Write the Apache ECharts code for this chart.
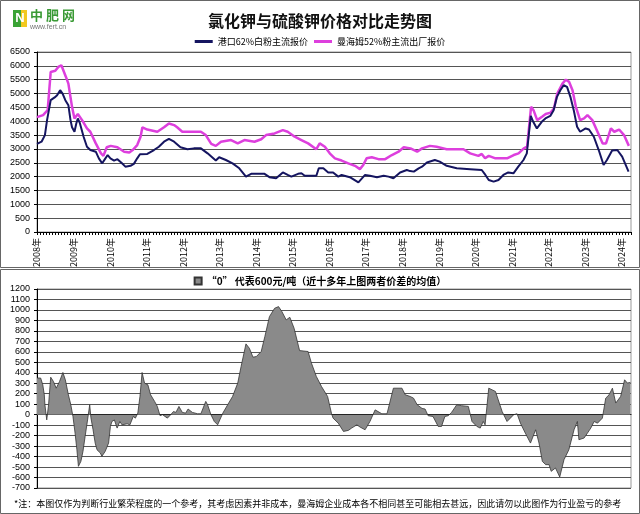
<!DOCTYPE html>
<html><head><meta charset="utf-8">
<script src="https://cdn.jsdelivr.net/npm/echarts@6/dist/echarts.min.js"></script>
<style>html,body{margin:0;padding:0;background:#fff}#c{width:640px;height:514px}</style>
</head><body><div id="c"></div>
<script>
// month index since 2008-01
const startYear = 2008;
const yearTicks = ['2008年','2009年','2010年','2011年','2012年','2013年','2014年','2015年','2016年','2017年','2018年','2019年','2020年','2021年','2022年','2023年','2024年'];
const mopName = '港口62%白粉主流报价';
const sopName = '曼海姆52%粉主流出厂报价';
const diffName = '“0” 代表600元/吨（近十多年上图两者价差的均值）';
const mopData = [[0,3180],[1.5,3260],[2.6,3500],[3.3,4040],[4.5,4760],[5.8,4860],[6.6,4940],[7.6,5120],[8.4,5000],[9.3,4760],[10.3,4580],[11,4040],[11.5,3780],[12.3,3620],[12.9,3920],[13.4,4100],[14.1,3920],[15.3,3440],[16.4,3080],[17.5,2960],[19.3,2900],[20.3,2660],[21.4,2480],[22.3,2630],[23.2,2780],[24.1,2660],[25.3,2580],[26.4,2630],[27.9,2480],[29,2360],[30.7,2390],[31.8,2460],[32.9,2660],[33.8,2810],[36.2,2820],[38.4,2960],[40,3080],[41.7,3260],[43.3,3360],[45,3260],[47.1,3060],[49.4,2990],[51.5,3020],[53.8,3020],[56,2840],[58.7,2580],[59.8,2700],[62,2600],[64.2,2480],[66.4,2300],[68.6,2000],[70.3,2100],[74.7,2100],[76.3,1980],[78.5,1940],[80.7,2150],[82.3,2060],[83.5,2000],[85.7,2100],[86.8,2120],[87.9,2030],[91.7,2030],[92.5,2300],[94,2300],[95.6,2150],[97.2,2150],[98.9,2000],[100,2060],[102.7,1980],[105.5,1790],[107.7,2060],[109.3,2030],[111.6,1980],[113.8,2030],[115.4,2000],[117,1940],[119.2,2150],[121.4,2240],[122.5,2200],[123.7,2180],[125.3,2300],[126.4,2360],[128,2510],[130.6,2600],[132.2,2540],[134.5,2390],[137.8,2300],[142.2,2270],[146,2240],[147.2,2060],[148.3,1880],[149.9,1820],[151.5,1880],[153.1,2060],[154.7,2150],[156.4,2120],[158,2360],[159.7,2600],[160.8,2840],[162.1,4190],[162.9,3980],[164.1,3740],[165.7,3980],[166.9,4100],[168.5,4190],[169.6,4400],[170.7,4880],[171.8,5120],[172.9,5300],[174,5240],[175.1,4880],[176.2,4400],[177.3,3800],[178.3,3620],[180.1,3740],[181.2,3700],[182.8,3440],[184.4,2960],[186,2420],[187.1,2600],[188.8,2940],[190.5,2960],[192.1,2720],[194.2,2180]];
const sopData = [[0,4150],[2,4220],[3.5,4400],[4.5,5780],[6,5820],[7,5960],[8,6020],[8.6,6000],[9.5,5600],[10.3,5360],[11.5,4520],[12.3,4100],[12.8,4160],[13.4,4260],[14.8,4040],[16.4,3740],[17.5,3620],[19.3,3200],[21,2840],[21.8,2750],[22.9,3060],[24.2,3110],[26.4,3060],[28.6,2900],[30.3,2870],[31.4,2960],[32.9,3140],[34,3440],[34.6,3780],[36.2,3700],[39.5,3620],[41.7,3780],[43.3,3920],[45,3860],[46,3780],[47.7,3620],[53.8,3620],[55.4,3500],[57.2,3180],[58.7,3110],[60.4,3260],[63.7,3320],[65.9,3200],[68.1,3320],[71.4,3260],[73.6,3350],[75.2,3500],[78,3560],[80.7,3680],[82.3,3620],[84.6,3440],[86.8,3320],[89,3200],[91.7,2990],[92.8,3200],[94.5,3080],[96.1,2840],[97.8,2660],[100,2580],[102.2,2480],[104.4,2390],[106,2270],[107.1,2420],[108.2,2660],[109.9,2700],[112.1,2630],[114.3,2630],[116.5,2780],[118.7,2900],[120.4,3060],[122.6,3020],[124.8,2900],[126.4,3020],[129,3110],[131.2,3080],[134.5,2990],[140,2990],[142.2,2840],[144.9,2750],[146,2820],[147.1,2660],[148.3,2750],[150.5,2660],[154.3,2660],[156.5,2780],[158.1,2840],[159.8,3020],[160.9,3080],[162.2,4520],[163,4400],[164.2,4040],[165.8,4160],[167,4260],[168.6,4310],[169.7,4460],[170.8,5000],[172.5,5360],[173.6,5500],[174.7,5420],[175.8,5120],[176.9,4520],[178.3,4040],[179.6,4100],[180.7,4220],[182.3,4040],[184,3620],[185.7,3200],[186.8,3200],[188.4,3740],[189.5,3620],[191.1,3700],[192.7,3500],[194.3,3110]];
const diffData = [[0,350],[1.2,350],[1.9,285],[2.4,190],[2.6,95],[3.2,-50],[3.8,95],[4.5,358],[5.4,317],[6.3,253],[7.4,317],[8.5,403],[9.3,333],[10.3,190],[11.1,95],[11.8,-17],[12.5,-176],[13.1,-335],[13.6,-493],[14.4,-446],[15.1,-350],[15.8,-207],[16.6,-50],[17.3,95],[17.7,-30],[18.4,-144],[19.1,-271],[19.7,-335],[20.8,-366],[21.3,-398],[22.4,-350],[23.5,-271],[24.1,-112],[24.6,-65],[25.4,-50],[26.3,-128],[27.2,-65],[27.9,-97],[29.6,-87],[30.5,-97],[31.6,-17],[32.3,-33],[33.1,15],[33.8,174],[34.5,403],[35.3,302],[36.4,285],[37.3,190],[38.6,127],[39.5,79],[40.4,-10],[41.2,0],[42.8,-33],[43.9,0],[44.8,30],[45.6,22],[46.6,79],[47.7,22],[48.8,15],[49.6,54],[51,22],[52.7,9],[53.8,9],[55.4,127],[56,95],[57.1,0],[58.2,-65],[59.3,-97],[59.9,-112],[61,15],[62.6,95],[64.2,174],[65.9,302],[67,460],[68.6,676],[69.7,635],[70.9,549],[72,555],[73.6,603],[74.8,746],[76.3,936],[78,1016],[79.3,1032],[80.4,984],[81.8,905],[83,930],[84.4,825],[86.2,612],[89,603],[90.1,492],[91.7,365],[93.4,269],[95.4,174],[96.7,9],[97.2,-33],[98.9,-81],[100.6,-160],[102.2,-150],[103.3,-128],[105,-97],[106.1,-119],[107.7,-144],[109.3,-65],[111,46],[113.2,9],[114.9,9],[117,253],[119.8,253],[120.9,190],[122.5,174],[123.6,158],[124.8,95],[126.4,60],[127.4,54],[128.4,-10],[130,-17],[131.7,-112],[132.8,-112],[133.9,-17],[135,-10],[136.1,22],[137.8,95],[139.4,86],[141.6,79],[142.8,-65],[144.4,-112],[145.5,-128],[146.5,-65],[147.1,-97],[148.3,253],[150.5,222],[152.7,30],[154.3,-65],[155.4,-33],[156.5,0],[157.6,9],[158.7,-81],[160.3,-176],[162,-271],[163.7,-144],[164.8,-271],[165.9,-446],[167,-477],[168.1,-477],[168.8,-541],[170.2,-509],[171.6,-595],[173,-430],[174.6,-335],[176.3,-144],[177.4,-65],[177.9,-239],[179.6,-223],[180.7,-176],[181.8,-128],[182.9,-65],[184,-81],[185.6,-33],[186.7,158],[187.8,190],[188.9,253],[190,111],[191.6,174],[192.9,333],[193.8,302],[194.8,308]];
const topYMin = 0, topYMax = 6500, topYStep = 500;
const botYMin = -700, botYMax = 1200, botYStep = 100;
const xMax = 195;

const FONT = 'Liberation Sans, Noto Sans CJK SC, sans-serif';
const CJK = 'Noto Sans CJK SC, sans-serif';
const plain = v => String(v);
const chart = echarts.init(document.getElementById('c'), null, {renderer:'canvas'});
chart.setOption({
  animation:false,
  backgroundColor:'#fff',
  textStyle:{fontFamily:FONT},
  legend:[
    {data:[mopName, sopName], top:37, left:'center', itemWidth:18, itemHeight:3, itemGap:6, icon:'rect',
     textStyle:{fontSize:9, color:'#000', fontFamily:CJK}, padding:0},
    {data:[diffName], top:276, left:'center', itemWidth:7, itemHeight:7, itemGap:4, icon:'rect',
     textStyle:{fontSize:10, fontWeight:'bold', color:'#000', fontFamily:CJK}, padding:0}
  ],
  grid:[
    {left:37, right:9, top:52, height:180, show:true, borderColor:'#999', borderWidth:1},
    {left:37, right:9, top:289, height:199, show:true, borderColor:'#999', borderWidth:1}
  ],
  xAxis:[
    {type:'value', gridIndex:0, min:0, max:xMax, interval:12,
     axisLine:{show:true, lineStyle:{color:'#000', width:1}},
     axisTick:{show:true, length:3, lineStyle:{color:'#000'}},
     minorTick:{show:true, splitNumber:12, length:3, lineStyle:{color:'#000'}},
     splitLine:{show:false},
     axisLabel:{rotate:90, fontSize:9, color:'#000', margin:6, fontFamily:CJK, showMaxLabel:false,
       formatter:v => (v % 12 === 0 && yearTicks[v/12]) ? yearTicks[v/12] : ''}},
    {type:'value', gridIndex:1, min:0, max:xMax, interval:12,
     axisLine:{show:true, onZero:true, lineStyle:{color:'#000', width:1}},
     axisTick:{show:false}, axisLabel:{show:false}, splitLine:{show:false}}
  ],
  yAxis:[
    {type:'value', gridIndex:0, min:topYMin, max:topYMax, interval:topYStep,
     axisLine:{show:true, lineStyle:{color:'#000'}}, axisTick:{show:true, length:3, lineStyle:{color:'#000'}},
     axisLabel:{fontSize:9, color:'#000', margin:7, formatter:plain},
     splitLine:{show:true, lineStyle:{color:'#555', width:1}}},
    {type:'value', gridIndex:1, min:botYMin, max:botYMax, interval:botYStep,
     axisLine:{show:true, lineStyle:{color:'#000'}}, axisTick:{show:true, length:3, lineStyle:{color:'#000'}},
     axisLabel:{fontSize:9, color:'#000', margin:7, formatter:plain},
     splitLine:{show:true, lineStyle:{color:'#555', width:1}}}
  ],
  series:[
    {name:mopName, type:'line', xAxisIndex:0, yAxisIndex:0, data:mopData, showSymbol:false, symbol:'none',
     lineStyle:{color:'#151560', width:2}, itemStyle:{color:'#151560'}, z:3},
    {name:sopName, type:'line', xAxisIndex:0, yAxisIndex:0, data:sopData, showSymbol:false, symbol:'none',
     lineStyle:{color:'#dd3fdd', width:2.5}, itemStyle:{color:'#dd3fdd'}, z:2},
    {name:diffName, type:'line', xAxisIndex:1, yAxisIndex:1, data:diffData, showSymbol:false, symbol:'none',
     lineStyle:{color:'#333', width:0.8}, itemStyle:{color:'#8a8a8a', borderColor:'#333', borderWidth:1},
     areaStyle:{color:'#8a8a8a', opacity:1, origin:0}, z:2}
  ],
  graphic:[
    {type:'rect', shape:{x:0.5, y:0.5, width:639, height:267}, style:{fill:'none', stroke:'#666', lineWidth:1}, silent:true},
    {type:'rect', shape:{x:0.5, y:269.5, width:639, height:244}, style:{fill:'none', stroke:'#666', lineWidth:1}, silent:true},
    {type:'rect', shape:{x:13, y:10, width:8, height:17}, style:{fill:'#3aa335'}},
    {type:'rect', shape:{x:21, y:10, width:6, height:17}, style:{fill:'#f2c81e'}},
    {type:'text', style:{x:20, y:18.5, text:'N', fill:'#fff', font:'bold 13px Liberation Sans', textAlign:'center', textVerticalAlign:'middle'}},
    {type:'text', style:{x:30, y:15, text:'中 肥 网', fill:'#3a9a35', font:'bold 13px Noto Sans CJK SC', textVerticalAlign:'middle'}},
    {type:'text', style:{x:30, y:27, text:'www.fert.cn', fill:'#777', font:'7px Liberation Sans', textVerticalAlign:'middle'}},
    {type:'text', style:{x:320, y:21, text:'氯化钾与硫酸钾价格对比走势图', fill:'#111', font:'bold 16px Noto Sans CJK SC', textAlign:'center', textVerticalAlign:'middle'}},
    {type:'text', style:{x:14, y:504, text:'*注：本图仅作为判断行业繁荣程度的一个参考，其考虑因素并非成本，曼海姆企业成本各不相同甚至可能相去甚远，因此请勿以此图作为行业盈亏的参考', fill:'#000', font:'9px Noto Sans CJK SC', textVerticalAlign:'middle'}}
  ]
});
</script></body></html>
